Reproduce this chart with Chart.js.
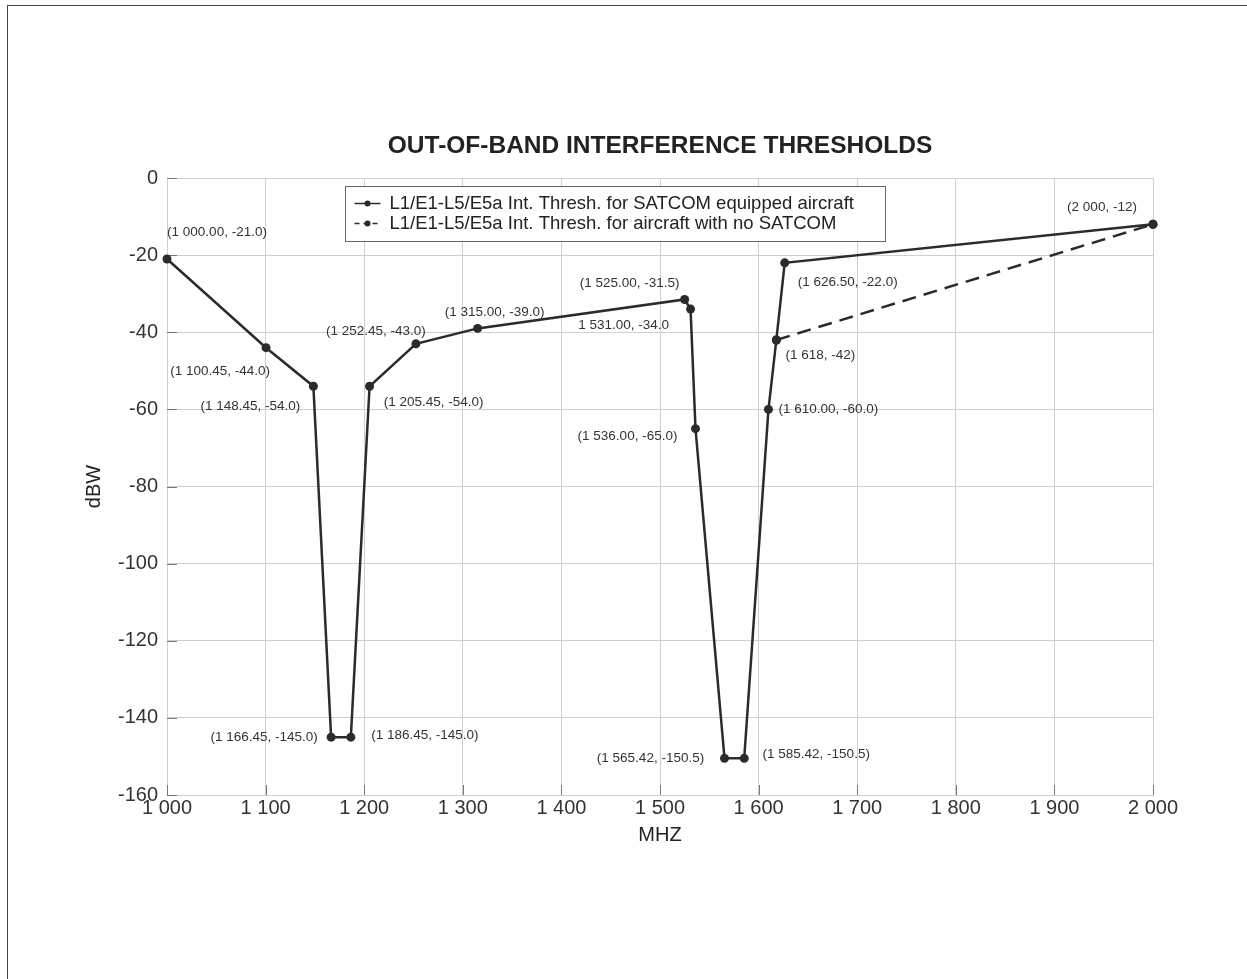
<!DOCTYPE html>
<html>
<head>
<meta charset="utf-8">
<script src="https://cdn.jsdelivr.net/npm/chart.js@4.4.0/dist/chart.umd.min.js"></script>
<style>
html, body { margin: 0; padding: 0; background: #fff; overflow: hidden; }
#frame { position: absolute; left: 7px; top: 5px; width: 1400px; height: 1100px; border: 1px solid #444; }
#myChart { position: absolute; left: 0; top: 0; }
</style>
</head>
<body>
<div id="frame"></div>
<canvas id="myChart" width="1247" height="979"></canvas>
<script>
// data
var freqSatcom = [1000, 1100.45, 1148.45, 1166.45, 1186.45, 1205.45, 1252.45, 1315,
                  1525, 1531, 1536, 1565.42, 1585.42, 1610, 1618, 1626.5, 2000];
var dbwSatcom = [-21, -44, -54, -145, -145, -54, -43, -39,
                 -31.5, -34, -65, -150.5, -150.5, -60, -42, -22, -12];
var freqNoSatcom = [1618, 2000];
var dbwNoSatcom = [-42, -12];

var pointLabels = ["(1 000.00, -21.0)", "(1 100.45, -44.0)", "(1 148.45, -54.0)",
                   "(1 166.45, -145.0)", "(1 186.45, -145.0)", "(1 205.45, -54.0)",
                   "(1 252.45, -43.0)", "(1 315.00, -39.0)", "(1 525.00, -31.5)",
                   "1 531.00, -34.0", "(1 536.00, -65.0)", "(1 565.42, -150.5)",
                   "(1 585.42, -150.5)", "(1 610.00, -60.0)", "(1 618, -42)",
                   "(1 626.50, -22.0)", "(2 000, -12)"];

var xTickValues = [1000, 1100, 1200, 1300, 1400, 1500, 1600, 1700, 1800, 1900, 2000];
var yTickValues = [0, -20, -40, -60, -80, -100, -120, -140, -160];

var seriesNames = ["L1/E1-L5/E5a Int. Thresh. for SATCOM equipped aircraft",
                   "L1/E1-L5/E5a Int. Thresh. for aircraft with no SATCOM"];

// where each point label sits, relative to its point (px)
var labelOffsets = [[50, -27], [-46, 24], [-63, 20], [-67, 0], [74, -2], [64, 16],
                    [-40, -13], [17, -16], [-55, -16], [-67, 16], [-68, 8], [-74, 0],
                    [72, -4], [60, 0], [44, 15], [63, 19], [-51, -17]];

var FONT = '"Liberation Sans", Arial, sans-serif';
var INK = '#2b2b2b';

function thousands(v) {
  return String(v).replace(/\B(?=(\d{3})+(?!\d))/g, ' ');
}

var decorations = {
  id: 'decorations',
  beforeDatasetsDraw: function(chart) {
    var ctx = chart.ctx, a = chart.chartArea;
    var xs = chart.scales.x, ys = chart.scales.y;
    ctx.save();
    ctx.strokeStyle = '#777';
    ctx.lineWidth = 1;
    ctx.beginPath();
    xTickValues.forEach(function(v) {
      var px = Math.round(xs.getPixelForValue(v)) + 0.5;
      ctx.moveTo(px, a.bottom);
      ctx.lineTo(px, a.bottom - 10);
    });
    yTickValues.forEach(function(v) {
      var py = Math.round(ys.getPixelForValue(v)) + 0.5;
      ctx.moveTo(a.left, py);
      ctx.lineTo(a.left + 10, py);
    });
    ctx.stroke();
    ctx.restore();
  },
  afterDatasetsDraw: function(chart) {
    var ctx = chart.ctx, a = chart.chartArea;
    var meta = chart.getDatasetMeta(0);
    ctx.save();
    ctx.font = '13.5px ' + FONT;
    ctx.fillStyle = '#333';
    ctx.textAlign = 'center';
    ctx.textBaseline = 'middle';
    meta.data.forEach(function(pt, i) {
      ctx.fillText(pointLabels[i], pt.x + labelOffsets[i][0], pt.y + labelOffsets[i][1]);
    });

    // legend box inside the plot
    var bx = a.left + 178.5, by = a.top + 8.5, bw = 540, bh = 55;
    ctx.fillStyle = '#fff';
    ctx.fillRect(bx, by, bw, bh);
    ctx.strokeStyle = '#666';
    ctx.lineWidth = 1;
    ctx.strokeRect(bx, by, bw, bh);
    ctx.font = '18.5px ' + FONT;
    ctx.textAlign = 'left';
    [0, 1].forEach(function(k) {
      var ly = by + 17 + k * 20;
      ctx.strokeStyle = INK;
      ctx.lineWidth = 1.5;
      ctx.setLineDash(k === 0 ? [] : [5, 4]);
      ctx.beginPath();
      ctx.moveTo(bx + 9, ly);
      ctx.lineTo(bx + 35, ly);
      ctx.stroke();
      ctx.setLineDash([]);
      ctx.fillStyle = INK;
      ctx.beginPath();
      ctx.arc(bx + 22, ly, 3, 0, Math.PI * 2);
      ctx.fill();
      ctx.fillStyle = '#222';
      ctx.fillText(seriesNames[k], bx + 44, ly);
    });
    ctx.restore();
  }
};

new Chart("myChart", {
  type: "line",
  data: {
    datasets: [{
      label: seriesNames[0],
      data: freqSatcom.map(function(f, i) { return {x: f, y: dbwSatcom[i]}; }),
      borderColor: INK,
      backgroundColor: INK,
      borderWidth: 2.5,
      pointRadius: 4.5,
      pointBackgroundColor: INK,
      pointBorderWidth: 0,
      tension: 0,
      clip: false
    }, {
      label: seriesNames[1],
      data: freqNoSatcom.map(function(f, i) { return {x: f, y: dbwNoSatcom[i]}; }),
      borderColor: INK,
      backgroundColor: INK,
      borderWidth: 2.5,
      borderDash: [14, 8],
      pointRadius: 4.5,
      pointBackgroundColor: INK,
      pointBorderWidth: 0,
      tension: 0,
      clip: false
    }]
  },
  options: {
    responsive: false,
    animation: false,
    layout: { padding: { left: 60, right: 94, top: 120, bottom: 128 } },
    plugins: {
      legend: { display: false },
      tooltip: { enabled: false },
      title: {
        display: true,
        fullSize: false,
        text: "OUT-OF-BAND INTERFERENCE THRESHOLDS",
        color: '#222',
        font: { family: FONT, size: 24.5, weight: 'bold' },
        padding: { top: 11.3, bottom: 17.3 }
      }
    },
    scales: {
      x: {
        type: 'linear',
        min: 1000,
        max: 2000,
        afterBuildTicks: function(s) { s.ticks = xTickValues.map(function(v) { return {value: v}; }); },
        afterFit: function(s) { s.height = 56; },
        grid: { color: '#cfcfcf', drawTicks: false },
        border: { color: '#cfcfcf' },
        ticks: {
          padding: 1,
          color: '#333',
          font: { family: FONT, size: 20 },
          maxRotation: 0,
          autoSkip: false,
          callback: function(v) { return thousands(v); }
        },
        title: {
          display: true,
          text: 'MHZ',
          color: '#222',
          font: { family: FONT, size: 20 },
          padding: { top: 0, bottom: 4 }
        }
      },
      y: {
        min: -160,
        max: 0,
        afterBuildTicks: function(s) { s.ticks = yTickValues.slice().reverse().map(function(v) { return {value: v}; }); },
        afterFit: function(s) { s.width = 107; },
        grid: { color: '#cfcfcf', drawTicks: false },
        border: { color: '#cfcfcf' },
        ticks: {
          padding: 9,
          color: '#333',
          font: { family: FONT, size: 20 },
          callback: function(v) { return String(v); }
        },
        title: {
          display: true,
          text: 'dBW',
          color: '#222',
          font: { family: FONT, size: 20 },
          padding: { top: 22, bottom: 0 }
        }
      }
    }
  },
  plugins: [decorations]
});
</script>
</body>
</html>
